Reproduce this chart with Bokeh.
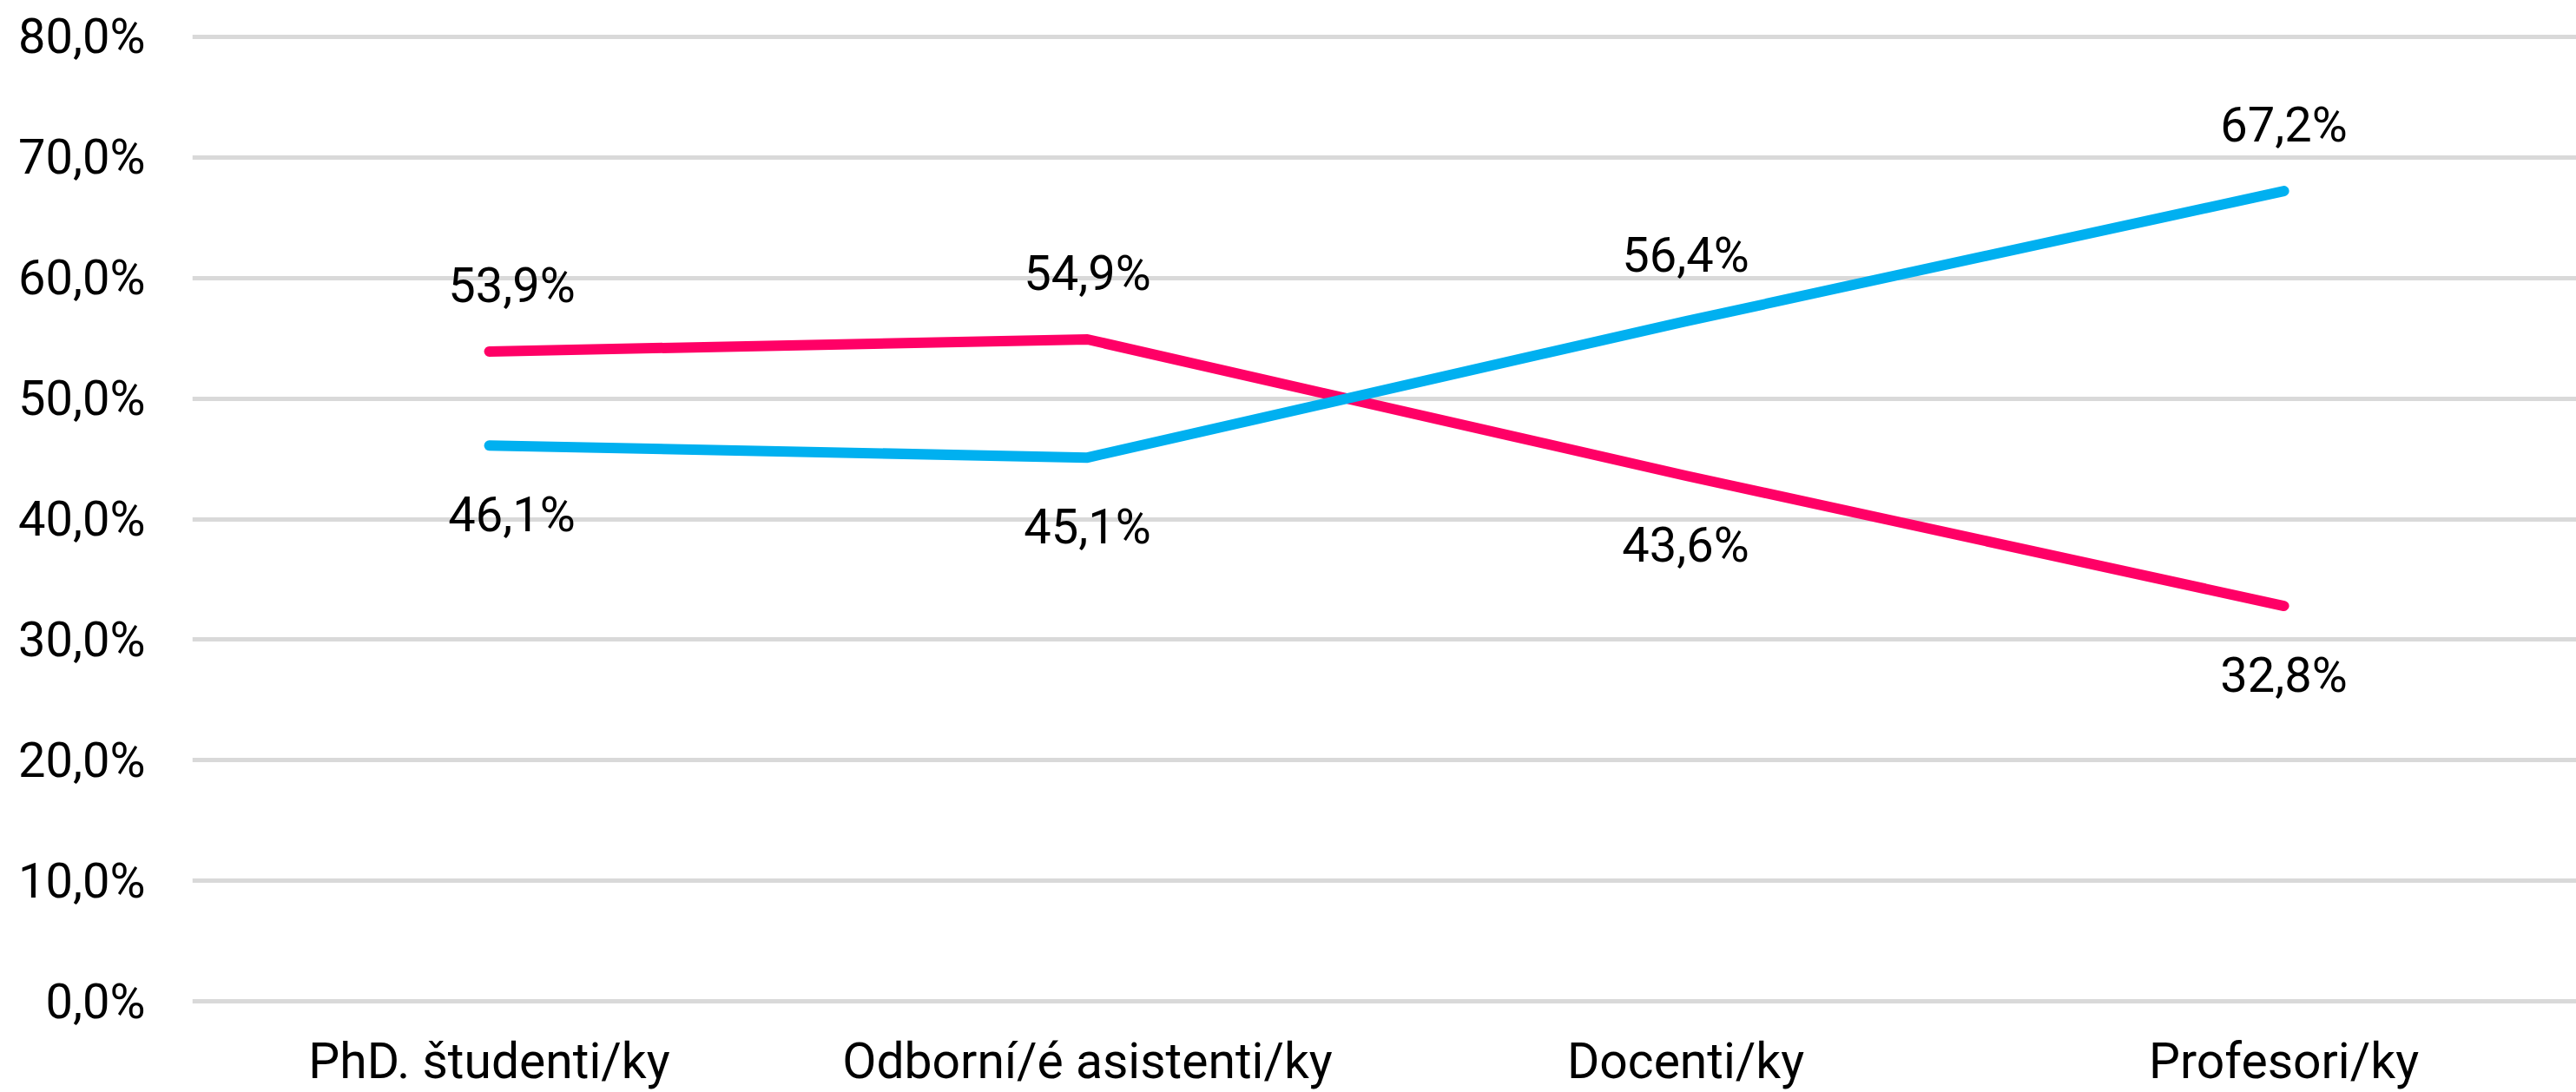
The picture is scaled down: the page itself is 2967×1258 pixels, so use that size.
from bokeh.plotting import figure
from bokeh.models import Range1d, FixedTicker, ColumnDataSource
from bokeh.core.properties import value
from bokeh.embed import file_html
from bokeh.resources import INLINE

# ---- data ----
categories = ["PhD. študenti/ky", "Odborní/é asistenti/ky", "Docenti/ky", "Profesori/ky"]
series_pink = [53.9, 54.9, 43.6, 32.8]
series_blue = [46.1, 45.1, 56.4, 67.2]
y_ticks = [0, 10, 20, 30, 40, 50, 60, 70, 80]
y_tick_labels = ["0,0%", "10,0%", "20,0%", "30,0%", "40,0%", "50,0%", "60,0%", "70,0%", "80,0%"]

# ---- style ----
PINK = "#FF0066"
BLUE = "#00B0F0"
GRID = "#D9D9D9"
FONT = "Roboto"
label_dx = [26, 0, 0, 0]          # small horizontal nudges of data labels
UP, DOWN = -76, 80                 # vertical offsets of data labels (px)

W, H = 2967, 1258
p = figure(width=W, height=H, output_backend="svg", toolbar_location=None,
           x_range=Range1d(-0.4964, 3.489), y_range=Range1d(-0.2, 80.2),
           min_border_left=221, min_border_right=0, min_border_top=39,
           min_border_bottom=100)
p.outline_line_color = None
p.background_fill_color = "white"
p.border_fill_color = "white"

xs = list(range(len(categories)))

# grid
p.xgrid.visible = False
p.ygrid.ticker = FixedTicker(ticks=y_ticks)
p.ygrid.grid_line_color = GRID
p.ygrid.grid_line_width = 5

# axes
p.yaxis.ticker = FixedTicker(ticks=y_ticks)
p.yaxis.major_label_overrides = {t: l for t, l in zip(y_ticks, y_tick_labels)}
p.xaxis.ticker = FixedTicker(ticks=xs)
p.xaxis.major_label_overrides = {i: c for i, c in zip(xs, categories)}
for ax in (p.xaxis[0], p.yaxis[0]):
    ax.axis_line_color = None
    ax.major_tick_line_color = None
    ax.minor_tick_line_color = None
    ax.major_tick_out = 0
    ax.major_tick_in = 0
    ax.minor_tick_out = 0
    ax.axis_label_standoff = 0
    ax.major_label_text_font = FONT
    ax.major_label_text_color = "black"
p.yaxis.major_label_text_font_size = "56px"
p.xaxis.major_label_text_font_size = "57px"
p.yaxis.major_label_standoff = 54
p.xaxis.major_label_standoff = 32

# lines
p.line(xs, series_pink, line_color=PINK, line_width=12, line_cap="round", line_join="round")
p.line(xs, series_blue, line_color=BLUE, line_width=12, line_cap="round", line_join="round")

# data labels
def fmt(v):
    return ("%.1f%%" % v).replace(".", ",")

lx, ly, lt, loff, lxoff = [], [], [], [], []
for i in xs:
    a, b = series_pink[i], series_blue[i]
    for v, other in ((a, b), (b, a)):
        lx.append(i)
        ly.append(v)
        lt.append(fmt(v))
        loff.append(UP if v >= other else DOWN)
        lxoff.append(label_dx[i])

src = ColumnDataSource(dict(x=lx, y=ly, t=lt, yo=loff, xo=lxoff))
p.text(x="x", y="y", text="t", source=src, x_offset="xo", y_offset="yo",
       text_align="center", text_baseline="middle",
       text_font=value(FONT), text_font_size="56px", text_color="black")

open("out.html", "w").write(file_html(p, INLINE))
